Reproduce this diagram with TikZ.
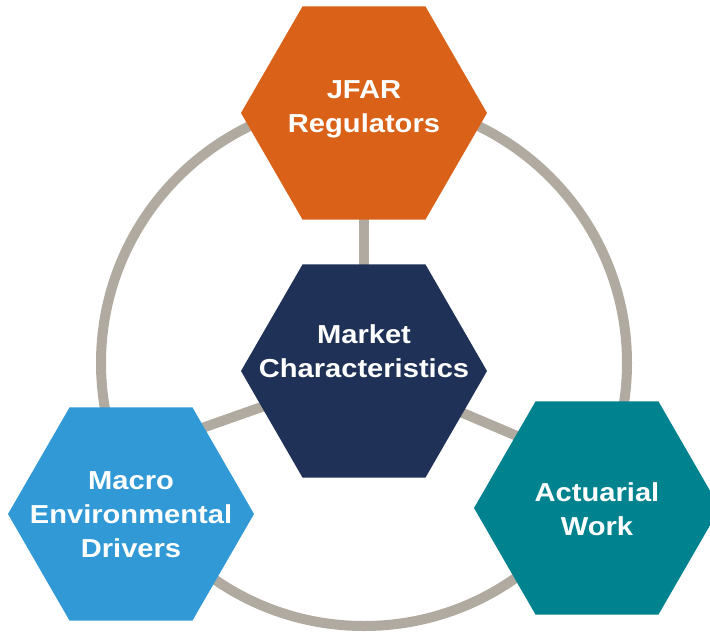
\documentclass[tikz,border=0pt]{standalone}
\usepackage{fontspec}
\setmainfont[FakeStretch=1.12]{Liberation Sans}
\usetikzlibrary{shapes.geometric}
\usetikzlibrary{positioning}
\pgfdeclarelayer{background}
\pgfsetlayers{background,main}

\definecolor{ringgray}{HTML}{B0AAA0}
\definecolor{mktnavy}{HTML}{1F3157}
\definecolor{jfarorange}{HTML}{D96218}
\definecolor{macroblue}{HTML}{3199D5}
\definecolor{actteal}{HTML}{00838F}

\tikzset{
  hexa/.style={regular polygon, regular polygon sides=6, minimum size=246pt, inner sep=0pt, draw=none},
  hextext/.style={text=white, font=\bfseries\fontsize{26}{34}\selectfont, align=center},
  ring/.style={draw=ringgray, line width=10pt},
}

\begin{document}
\begin{tikzpicture}[x=1pt,y=-1pt]
  \useasboundingbox (0,0) rectangle (710,632);
  %Nodes
  \node[hexa, fill=mktnavy]    (mkt)   at (364,371) {};
  \node[hexa, fill=jfarorange] (jfar)  at (364,113) {};
  \node[hexa, fill=macroblue]  (macro) at (131,514) {};
  \node[hexa, fill=actteal]    (act)   at (597,508) {};
  \coordinate (ringc)    at (364,363);
  \coordinate (macroend) at (131,453);
  \coordinate (actend)   at (597,470);

  %Labels
  \node[hextext] (mktlabel)   at ([yshift=20pt]mkt)   {Market\\Characteristics};
  \node[hextext] (jfarlabel)  at ([yshift=4pt]jfar)   {JFAR\\Regulators};
  \node[hextext] (macrolabel) at ([yshift=-1pt]macro) {Macro\\Environmental\\Drivers};
  \node[hextext] (actlabel)   at ([yshift=-1pt]act)   {Actuarial\\Work};

  %Lines
  \begin{pgfonlayer}{background}
    \draw[ring] (ringc) circle (263);
    \draw[ring] (mkt.center) -- (jfar.center);
    \draw[ring] (mkt.center) -- (macroend);
    \draw[ring] (mkt.center) -- (actend);
  \end{pgfonlayer}
\end{tikzpicture}
\end{document}
